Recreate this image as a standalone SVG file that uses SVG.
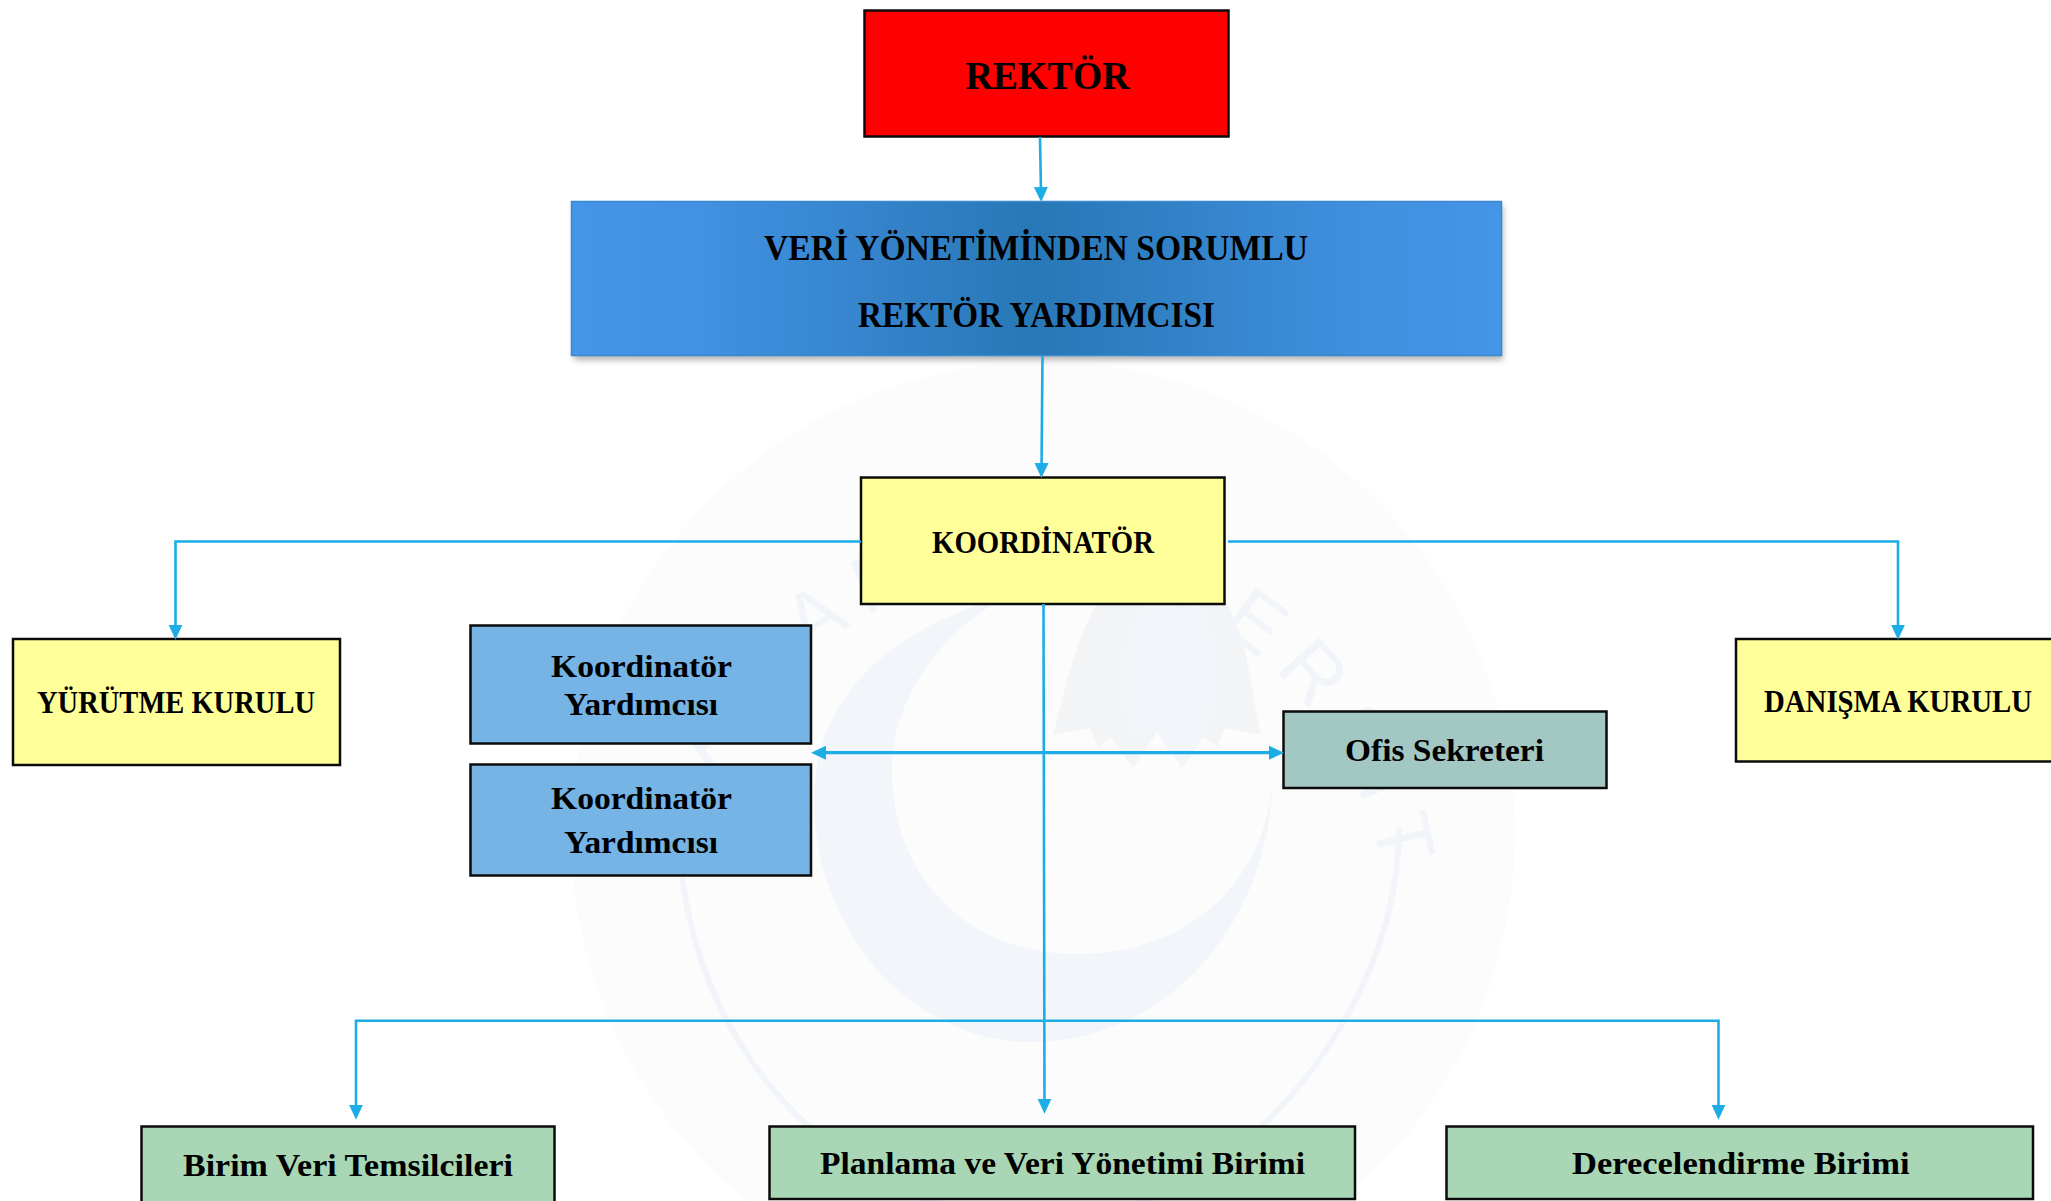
<svg xmlns="http://www.w3.org/2000/svg" width="2051" height="1201" viewBox="0 0 2051 1201">
<style>
.n{stroke:#0b0b0b;stroke-width:2.5}
.t{font-family:"Liberation Serif","Times New Roman",serif;font-weight:700;fill:#000;text-anchor:start}
.s40{font-size:40px}.s36{font-size:36px}.s32{font-size:32px}
.c{fill:none;stroke:#1dade6;stroke-width:2.6}
.h{stroke-width:3.2}
.w{fill:#f2f6fa}
</style>
<defs>
<linearGradient id="vp" x1="0" y1="0" x2="1" y2="0">
<stop offset="0" stop-color="#4595e8"/><stop offset="0.14" stop-color="#4291e2"/><stop offset="0.5" stop-color="#2877b6"/><stop offset="0.85" stop-color="#4090df"/><stop offset="1" stop-color="#4595e8"/>
</linearGradient>
<filter id="sh" x="-3%" y="-10%" width="106%" height="125%"><feGaussianBlur stdDeviation="3"/></filter>
<marker id="a" markerUnits="userSpaceOnUse" markerWidth="16" markerHeight="16" refX="6" refY="8" orient="auto-start-reverse"><path d="M0 1L15 8L0 15Z" fill="#1dade6"/></marker>
<path id="arc" d="M688.4 872A357 357 0 0 1 1391.6 872"/>
</defs>
<rect width="2051" height="1201" fill="#fff"/>
<g id="watermark">
<circle cx="1043" cy="834" r="472" fill="#fcfcfd"/>
<path class="w" d="M1010 595C900 625 814 690 814 800C814 930 910 1042 1031 1042C1170 1042 1273 920 1273 770C1270 880 1190 954 1077 954C970 954 892 880 892 770C892 700 940 630 1010 595Z"/>
<path fill="#f3f4f6" d="M1099 600C1075 640 1065 690 1053 735L1090 728L1098 747L1111 737L1133 768L1157 732L1182 768L1203 737L1218 747L1224 728L1261 735C1250 690 1250 640 1224 600Z"/>
<path class="w" d="M1150 600C1125 620 1118 680 1130 730L1157 732L1182 768L1203 737C1225 690 1222 640 1195 600Z"/>
<path fill="none" stroke="#f1f5f9" stroke-width="6" d="M682 877C700 1010 770 1110 866 1170C980 1240 1110 1230 1209 1170C1320 1090 1399 960 1399 827"/>
<text transform="rotate(4 1040 810)" font-family="'Liberation Sans Narrow','Liberation Sans',sans-serif" font-size="80" fill="#f1f5f9" letter-spacing="16" text-anchor="middle"><textPath href="#arc" startOffset="50%">ADIYAMAN ÜNİVERSİTESİ</textPath></text>
</g>
<g id="node-rektor"><rect class="n" x="864.5" y="10.5" width="364" height="126" fill="#f00"/><text class="t s40" x="965.5" y="89" textLength="164" lengthAdjust="spacingAndGlyphs">REKTÖR</text></g>
<g id="node-rektor-yardimcisi"><rect x="574" y="206" width="929" height="154" fill="#555" opacity=".45" filter="url(#sh)"/><rect x="571.5" y="201.5" width="930" height="154" fill="url(#vp)" stroke="#3a88cf" stroke-width="1.5"/><text class="t s36" x="764" y="259.5" textLength="544" lengthAdjust="spacingAndGlyphs">VERİ YÖNETİMİNDEN SORUMLU</text><text class="t s36" x="858" y="326.5" textLength="357" lengthAdjust="spacingAndGlyphs">REKTÖR YARDIMCISI</text></g>
<g id="node-koordinator"><rect class="n" x="861" y="477.5" width="363.5" height="126.5" fill="#ff9"/><text class="t s32" x="932" y="552.5" textLength="222" lengthAdjust="spacingAndGlyphs">KOORDİNATÖR</text></g>
<g id="node-yurutme"><rect class="n" x="13" y="639" width="327" height="126" fill="#ff9"/><text class="t s32" x="37" y="712.5" textLength="278" lengthAdjust="spacingAndGlyphs">YÜRÜTME KURULU</text></g>
<g id="node-koordinator-yardimcisi-1"><rect class="n" x="470.5" y="625.5" width="340.5" height="118" fill="#75b4e4"/><text class="t s32" x="551" y="676.5" textLength="181" lengthAdjust="spacingAndGlyphs">Koordinatör</text><text class="t s32" x="564" y="714.5" textLength="154" lengthAdjust="spacingAndGlyphs">Yardımcısı</text></g>
<g id="node-koordinator-yardimcisi-2"><rect class="n" x="470.5" y="764.5" width="340.5" height="111" fill="#75b4e4"/><text class="t s32" x="551" y="809" textLength="181" lengthAdjust="spacingAndGlyphs">Koordinatör</text><text class="t s32" x="564" y="853" textLength="154" lengthAdjust="spacingAndGlyphs">Yardımcısı</text></g>
<g id="node-ofis"><rect class="n" x="1283.5" y="711.5" width="323" height="76.5" fill="#a3c7c3"/><text class="t s32" x="1345" y="760.5" textLength="199" lengthAdjust="spacingAndGlyphs">Ofis Sekreteri</text></g>
<g id="node-danisma"><rect class="n" x="1736" y="639" width="330" height="122.5" fill="#ff9"/><text class="t s32" x="1764" y="711.5" textLength="268" lengthAdjust="spacingAndGlyphs">DANIŞMA KURULU</text></g>
<g id="node-birim"><rect class="n" x="141.5" y="1126.5" width="413" height="90" fill="#a9d7b5"/><text class="t s32" x="183" y="1176" textLength="330" lengthAdjust="spacingAndGlyphs">Birim Veri Temsilcileri</text></g>
<g id="node-planlama"><rect class="n" x="769.5" y="1126.5" width="585.5" height="72.5" fill="#a9d7b5"/><text class="t s32" x="820" y="1174" textLength="485" lengthAdjust="spacingAndGlyphs">Planlama ve Veri Yönetimi Birimi</text></g>
<g id="node-derecelendirme"><rect class="n" x="1446.5" y="1126.5" width="586.5" height="72.5" fill="#a9d7b5"/><text class="t s32" x="1572" y="1174" textLength="337.500" lengthAdjust="spacingAndGlyphs">Derecelendirme Birimi</text></g>
<g id="connectors">
<path class="c" d="M1040 137L1041 193" marker-end="url(#a)"/>
<path class="c" d="M1042.500 356L1041.500 469" marker-end="url(#a)"/>
<path class="c" d="M861 541.500H175.500V630.700" marker-end="url(#a)"/>
<path class="c" d="M1228 541.500H1898V630.700" marker-end="url(#a)"/>
<path class="c" d="M1043.500 604L1044.500 1104.700" marker-end="url(#a)"/>
<path class="c h" d="M820 752.700H1275" marker-start="url(#a)" marker-end="url(#a)"/>
<path class="c" d="M1044 1020.700H356V1110.700" marker-end="url(#a)"/>
<path class="c" d="M1044 1020.700H1718.500V1110.700" marker-end="url(#a)"/>
</g>
</svg>
